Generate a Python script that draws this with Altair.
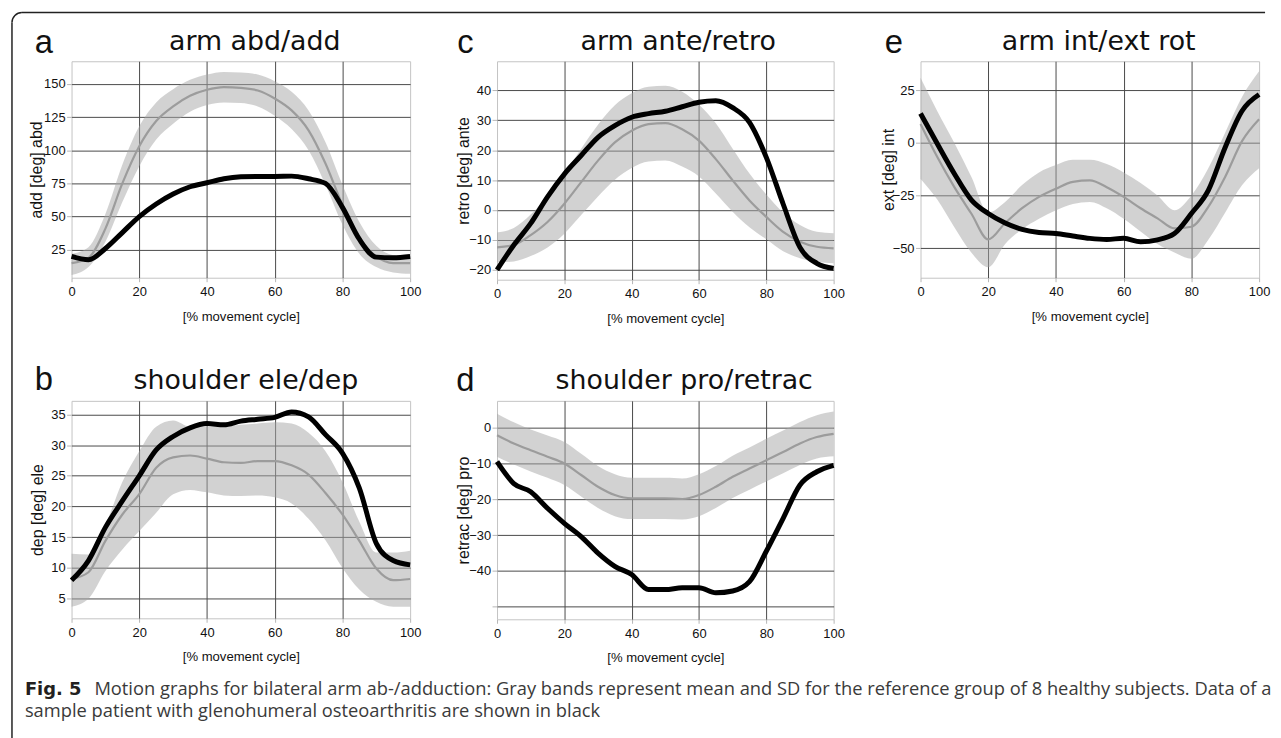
import altair as alt
import pandas as pd

# ---------------- data ----------------
X = [0, 5, 10, 15, 20, 25, 30, 35, 40, 45, 50, 55, 60, 65, 70, 75, 80, 85, 90, 95, 100]

a_mean = [15, 19, 41, 75, 103, 122, 133, 141, 145.5, 147.5, 147, 145, 139, 130, 115, 90, 59, 34, 20, 15, 15]
a_upper = [22, 27, 52, 89, 118, 136, 146, 153, 157, 159, 158.5, 157, 152, 144, 130, 106, 74, 46, 28, 21, 20]
a_lower = [6, 12, 31, 61, 88, 108, 120, 129, 134, 136, 135.5, 133, 126, 116, 100, 74, 44, 22, 12, 8, 7]
a_pat = [20, 17.5, 26, 38, 50, 59.5, 67, 72.5, 75.5, 78.5, 80, 80.3, 80.3, 80.5, 78.5, 75, 57, 33, 19.5, 19, 20]

c_mean = [-12.5, -11.7, -8.4, -4, 2.1, 9.3, 16.5, 22.6, 26.5, 28.7, 29, 27, 23.2, 17, 9.9, 3.2, -2.3, -7.3, -10.6, -12.3, -12.8]
c_upper = [-7.5, -6, -1.5, 4.5, 12, 20.5, 28.5, 35, 39, 41.2, 41.5, 39.5, 35.2, 29, 20.5, 12.2, 5.2, -0.8, -5, -7.3, -7.8]
c_lower = [-17.5, -17.2, -15.4, -12.5, -7.9, -1.7, 4.5, 10.1, 14, 16.2, 16.5, 14.5, 11.2, 5.5, -0.6, -5.8, -9.8, -13.8, -16.1, -17.3, -17.8]
c_pat = [-20, -11.7, -4.5, 4.4, 12, 18.2, 24.3, 28.2, 31, 32.2, 33, 34.5, 36, 36.5, 34.2, 29.3, 17.6, 2, -12.5, -17.8, -19.5]

e_mean = [9, -6.8, -21, -33.5, -45.8, -38, -31, -25.6, -21.7, -18.5, -17.8, -21, -25.6, -31, -35.8, -40.6, -39.8, -30.3, -16, 1, 11.3]
e_upper = [31, 15, 0, -16, -33, -28, -20, -14, -10.5, -8, -8, -10, -14, -19, -25, -32, -25, -12, 5, 22, 34]
e_lower = [-17, -27, -40, -52, -59, -48, -41, -36, -32, -29, -28, -31, -36, -42, -48, -52, -55, -46, -33, -20, -12]
e_pat = [14, -0.5, -14.6, -27, -33.5, -38, -41, -42.5, -43, -44.2, -45.3, -45.8, -45.3, -46.9, -46, -43, -33.5, -22.5, -2, 15.3, 23]

b_mean = [8.2, 9.3, 14.4, 18.7, 22, 26.3, 28, 28.3, 27.8, 27.2, 27.1, 27.4, 27.4, 26.7, 25.2, 22.2, 18.7, 14.4, 9.9, 8, 8.2]
b_upper = [12.3, 12.2, 17, 24, 29, 33, 34, 33, 33, 33, 33.3, 33.5, 33.7, 33.5, 32, 29, 24, 17.5, 12.5, 12.5, 12.8]
b_lower = [3.7, 5, 9.5, 13, 16, 19, 22, 22.7, 22.3, 21.8, 21.7, 21.8, 21.5, 20.5, 18, 14.5, 10, 6.5, 4.5, 3.7, 3.7]
b_pat = [8, 11.2, 16.6, 20.9, 25, 29.2, 31.4, 32.8, 33.5, 33.3, 33.9, 34.2, 34.5, 35.4, 34.6, 31.7, 28.7, 23, 14, 11.2, 10.5]

d_mean = [-2.1, -4.4, -6.3, -8.1, -10, -13.2, -16.5, -18.8, -19.7, -19.7, -19.7, -19.9, -18.8, -16.5, -13.7, -11.4, -9.1, -6.8, -4.4, -2.6, -1.7]
d_upper = [3.9, 1.5, -0.5, -2.2, -4, -7.3, -10.7, -13, -14, -14, -14, -14.2, -13, -10.7, -7.8, -5.5, -3.1, -0.8, 1.6, 3.5, 4.5]
d_lower = [-8.1, -10.3, -12.2, -14, -16, -19.2, -22.4, -24.7, -25.5, -25.5, -25.5, -25.6, -24.7, -22.4, -19.6, -17.3, -15, -12.7, -10.4, -8.6, -8]
d_pat = [-9.5, -15.6, -17.9, -22.5, -26.7, -30.4, -35, -38.7, -41, -45.2, -45.2, -44.7, -44.7, -46.1, -45.6, -43, -34.5, -25.3, -16, -12.3, -10.5]

X_TICKS = [0, 20, 40, 60, 80, 100]
X_TITLE = "[% movement cycle]"

CAPTION_BOLD = "Fig. 5"
CAPTION_1 = ("Motion graphs for bilateral arm ab-/adduction: Gray bands represent mean and SD for the "
             "reference group of 8 healthy subjects. Data of a")
CAPTION_2 = "sample patient with glenohumeral osteoarthritis are shown in black"

REG = "Liberation Sans, Arial"
FRAME = "#222222"
GRID = "#4a4a4a"
PW = 341  # plot width of the left column


def text_layer(txt, x, y, **kw):
    return alt.Chart(pd.DataFrame({"t": [txt]})).mark_text(baseline="alphabetic", **kw).encode(
        text="t:N", x=alt.value(x), y=alt.value(y))


def panel(letter, title, ytitle, ydomain, yticks, mean, upper, lower, pat,
          w, h, title_dx, ytitle_x, letter_dx, letter_dy, title_y, hide=None, extra=None):
    df = pd.DataFrame({"x": X, "mean": mean, "upper": upper, "lower": lower, "patient": pat})
    xaxis = alt.Axis(
        values=X_TICKS, tickCount=len(X_TICKS) + 2, title=X_TITLE, grid=True,
        gridColor=GRID, gridWidth=1,
        gridOpacity={"condition": {"test": "datum.value === 0 || datum.value === 100", "value": 0}, "value": 1},
        domain=False, ticks=True, tickColor="#b5b5b5", tickSize=4, labelPadding=4,
        labelFont=REG, labelFontSize=13, labelColor="#111", labelFlush=False,
        labelOverlap=False, titleFont=REG, titleFontSize=13.2, titleFontWeight="normal",
        titleColor="#111", titleX=w / 2, titleY=39, titleBaseline="middle", titleAlign="center")
    yargs = dict(
        values=yticks, tickCount=len(yticks) + 2, title=ytitle, grid=True,
        gridColor=GRID, gridWidth=1,
        domain=False, ticks=True, tickColor="#b5b5b5", tickSize=5, labelPadding=1.5,
        labelFont=REG, labelFontSize=13, labelColor="#111", labelFlush=False,
        labelOverlap=False, titleFont=REG, titleFontSize=16, titleFontWeight="normal",
        titleColor="#111", titleX=ytitle_x, titleY=h / 2, titleAngle=270,
        titleBaseline="middle", titleAlign="center")
    if hide is not None:
        yargs["labelExpr"] = "datum.value == %s ? '' : datum.label" % hide
    yaxis = alt.Axis(**yargs)
    xs = alt.Scale(domain=[0, 100], nice=False, zero=False)
    ys = alt.Scale(domain=ydomain, nice=False, zero=False)
    base = alt.Chart(df)
    band = base.mark_area(color="#a6a6a6", opacity=0.5, interpolate="monotone").encode(
        x=alt.X("x:Q", scale=xs, axis=xaxis),
        y=alt.Y("lower:Q", scale=ys, axis=yaxis),
        y2="upper:Q")
    mline = base.mark_line(color="#9c9c9c", strokeWidth=2.2, interpolate="monotone").encode(
        x="x:Q", y="mean:Q")
    pline = base.mark_line(color="#000000", strokeWidth=5, interpolate="monotone").encode(
        x="x:Q", y="patient:Q")
    ltxt = text_layer(letter, letter_dx, letter_dy, font=REG, fontSize=33, align="left", color="#111")
    ttxt = text_layer(title, w / 2 + title_dx, title_y, font="DejaVu Sans", fontSize=27,
                      align="center", color="#111")
    layers = [band, mline, pline, ltxt, ttxt] + (extra or [])
    return alt.layer(*layers).properties(
        width=w, height=h,
        view=alt.ViewBackground(stroke="#c4c4c4", strokeWidth=1))


# figure frame (top and left edges with a rounded corner), placed relative to panel a
one = pd.DataFrame({"v": [0]})
frame_top = alt.Chart(one).mark_rule(color=FRAME, strokeWidth=1.5).encode(
    x=alt.value(-50), x2=alt.value(1202), y=alt.value(-49))
frame_left = alt.Chart(one).mark_rule(color=FRAME, strokeWidth=1.5).encode(
    x=alt.value(-60), y=alt.value(-39), y2=alt.value(690))
frame_corner = alt.Chart(one).mark_arc(color=FRAME, radius=10.75, radius2=9.25,
                                       theta=4.7124, theta2=6.2832).encode(
    x=alt.value(-50), y=alt.value(-39))

# figure caption, placed relative to panel b
cap_bold = text_layer(CAPTION_BOLD, -47, 296, font="DejaVu Sans", fontSize=18,
                      fontWeight="bold", align="left", color="#231f20")
cap_1 = text_layer(CAPTION_1, 23, 296, font="Open Sans", fontSize=18.45, align="left", color="#3a3a3a")
cap_2 = text_layer(CAPTION_2, -47, 318, font="Open Sans", fontSize=18.45, align="left", color="#3a3a3a")

pa = panel("a", "arm abd/add", "add [deg] abd", [4, 167], [25, 50, 75, 100, 125, 150],
           a_mean, a_upper, a_lower, a_pat, PW, 218, 14, -35, -37, -8, -11,
           extra=[frame_top, frame_left, frame_corner])
pc = panel("c", "arm ante/retro", "retro [deg] ante", [-23.3, 49.7], [-20, -10, 0, 10, 20, 30, 40],
           c_mean, c_upper, c_lower, c_pat, 339, 220, 13, -34, -40, -8, -11)
pe = panel("e", "arm int/ext rot", "ext [deg] int", [-64, 38.8], [-50, -25, 0, 25],
           e_mean, e_upper, e_lower, e_pat, 341, 218, 9, -32, -36, -8, -11)
pb = panel("b", "shoulder ele/dep", "dep [deg] ele", [1.8, 37.2], [5, 10, 15, 20, 25, 30, 35],
           b_mean, b_upper, b_lower, b_pat, PW, 219, 5, -34, -37, -11, -12,
           extra=[cap_bold, cap_1, cap_2])
pd_ = panel("d", "shoulder pro/retrac", "retrac [deg] pro", [-53.5, 7.5], [-50, -40, -30, -20, -10, 0],
            d_mean, d_upper, d_lower, d_pat, 339, 220, 19, -34, -41, -10, -12, hide=-50)

chart = alt.concat(
    pa, pc, pe, pb, pd_, columns=3,
    spacing={"row": 122, "column": 87.5}, bounds="flush",
).properties(
    padding={"left": 2, "top": 0, "right": 0, "bottom": 0}
).configure(font="Liberation Sans", background="white")

chart.save("out.html", embed_options={"renderer": "svg", "actions": False})
